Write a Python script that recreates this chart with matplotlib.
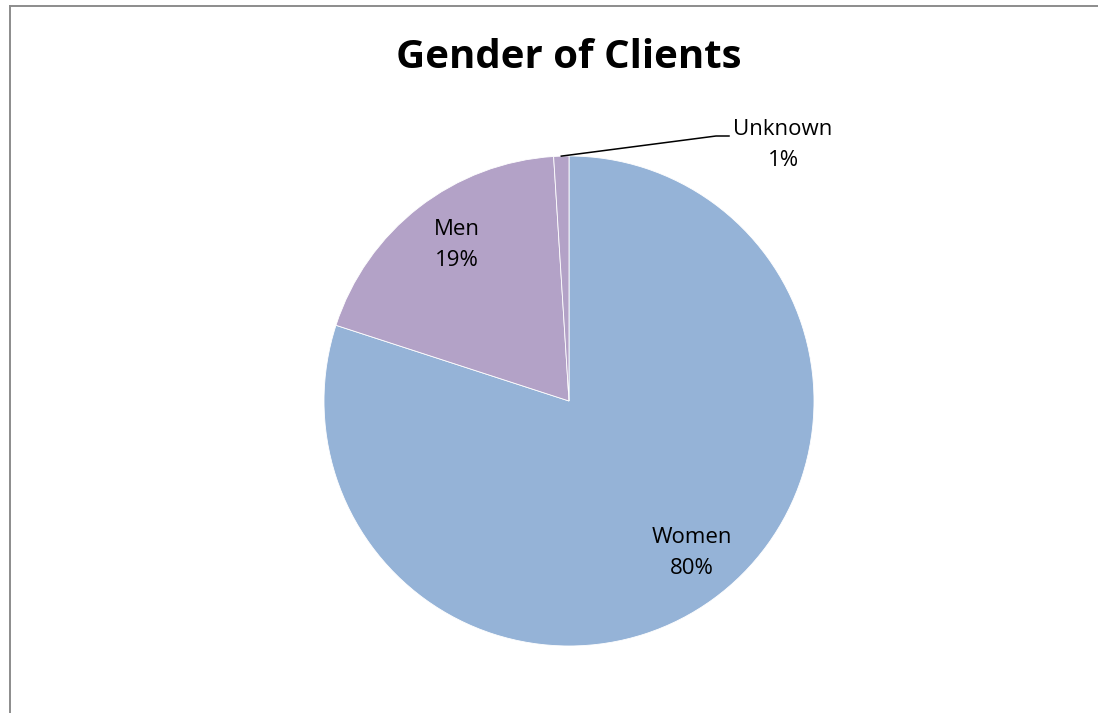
import numpy as np
import matplotlib.pyplot as plt
from matplotlib.lines import Line2D

categories = ['Women', 'Men', 'Unknown']
shares = [80, 19, 1]
colors = ['#95b3d7', '#b3a2c7', '#b3a2c7']

plt.rcParams['font.family'] = ['Open Sans', 'DejaVu Sans']

W, H = 1098, 713
fig = plt.figure(figsize=(W / 100, H / 100), dpi=100)

# pie centre (569, 401) px, radius 245 px
cx, cy, rad = 569, 401, 245
half = 300
ax = fig.add_axes([(cx - half) / W, (H - cy - half) / H, 2 * half / W, 2 * half / H])
lim = half / rad

labels = [f'{c}\n{v}%' for c, v in zip(categories, shares)]
wedges, texts = ax.pie(shares, colors=colors, startangle=90, counterclock=False,
                       labels=labels, labeldistance=0.81, radius=1,
                       wedgeprops=dict(edgecolor='white', linewidth=0.6),
                       textprops=dict(fontsize=16, ha='center', va='center', linespacing=1.62))
ax.set_xlim(-lim, lim)
ax.set_ylim(-lim, lim)
ax.set_aspect('equal')
ax.axis('off')

# label spots (px)
spots = [(692, 553), (457, 245), (783, 145)]
for t, (px, py) in zip(texts, spots):
    t.set_position(((px - cx) / rad, (cy - py) / rad))

# small slice: leader line from the wedge edge to its label
w = wedges[2]
ang = np.deg2rad((w.theta1 + w.theta2) / 2)
x0, y0 = np.cos(ang), np.sin(ang)
elbow_y = (cy - 136) / rad
ax.plot([x0, (716 - cx) / rad, (729 - cx) / rad], [y0, elbow_y, elbow_y], color='black', lw=1.1)

fig.text(569 / W, 1 - 57 / H, 'Gender of Clients', ha='center', va='center',
         fontsize=29, fontweight='bold')

# chart-area border (cropped on right and bottom)
fig.add_artist(Line2D([9.5 / W, 9.5 / W], [0, 1 - 5.5 / H], color='#8c8c8c', lw=1.4))
fig.add_artist(Line2D([9.5 / W, 1], [1 - 5.5 / H, 1 - 5.5 / H], color='#8c8c8c', lw=1.4))

fig.savefig('out.png', dpi=100)
